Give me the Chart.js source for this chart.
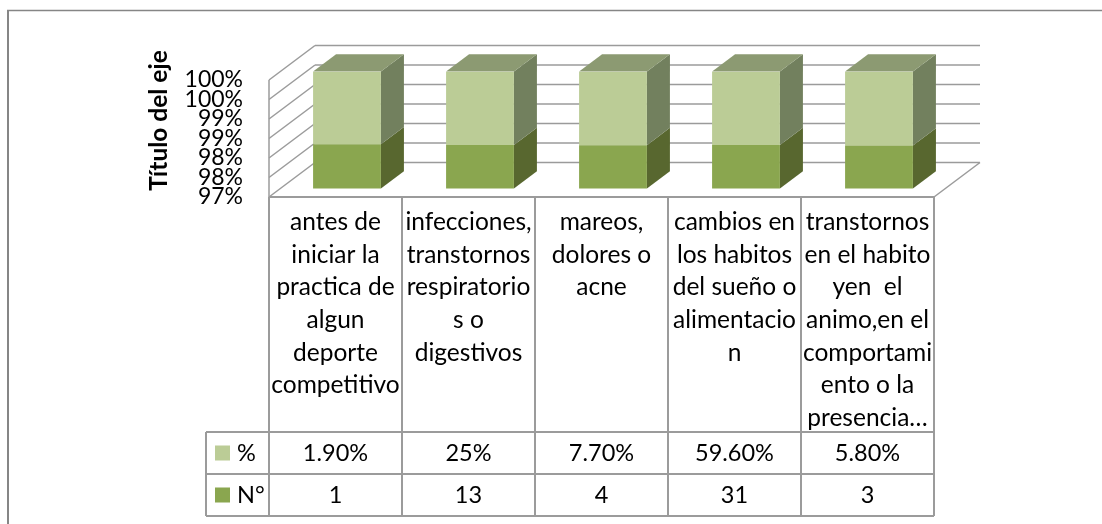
<!DOCTYPE html>
<html lang="es">
<head>
  <meta charset="UTF-8">
  <title>Grafico</title>
  <style>
    body { margin: 0; background: #fff; }
    canvas { display: block; }
  </style>
</head>
<body>
<canvas id="chart" width="1102" height="524"></canvas>
<script src="https://cdn.jsdelivr.net/npm/chart.js"></script>
<script>
  const categories = [
    ['antes de', 'iniciar la', 'practica de', 'algun', 'deporte', 'competitivo'],
    ['infecciones,', 'transtornos', 'respiratorio', 's o', 'digestivos'],
    ['mareos,', 'dolores o', 'acne'],
    ['cambios en', 'los habitos', 'del sueño o', 'alimentacio', 'n'],
    ['transtornos', 'en el habito', 'yen  el', 'animo,en el', 'comportami', 'ento o la', 'presencia…']
  ];
  const seriesNames = ['N°', '%'];
  const nValues = [1, 13, 4, 31, 3];
  const pctLabels = ['1.90%', '25%', '7.70%', '59.60%', '5.80%'];
  const yTickLabels = ['97%', '98%', '98%', '99%', '99%', '100%', '100%'];
  const axisTitle = 'Título del eje';

  // the original is a 100% stacked bar, so each column is the share of n + pct
  const pctValues = pctLabels.map(s => parseFloat(s) / 100);
  const nShare = nValues.map((n, i) => 100 * n / (n + pctValues[i]));
  const pctShare = pctValues.map((p, i) => 100 * p / (nValues[i] + p));

  const FONT = 'Lato, "Open Sans", sans-serif';
  const GRID = '#9b9b9b';
  const DEPTH_X = 46, DEPTH_Y = 34.5;      // full floor depth
  const BAR_X = 23, BAR_Y = 17.3;          // depth of a bar
  const SHIFT_X = 11.5, SHIFT_Y = 8.5;     // bars sit inside the floor

  const faces = [
    { side: '#58672f', top: '#58672f' },
    { side: '#72805e', top: '#8c9a72' }
  ];

  function poly(ctx, pts, color) {
    ctx.fillStyle = color;
    ctx.beginPath();
    pts.forEach((p, i) => i ? ctx.lineTo(p[0], p[1]) : ctx.moveTo(p[0], p[1]));
    ctx.closePath();
    ctx.fill();
  }

  function line(ctx, x1, y1, x2, y2) {
    ctx.beginPath();
    ctx.moveTo(x1, y1);
    ctx.lineTo(x2, y2);
    ctx.stroke();
  }

  const box3d = {
    id: 'box3d',
    beforeDraw(chart) {
      const ctx = chart.ctx;
      // frame around the chart
      ctx.save();
      ctx.strokeStyle = '#868686';
      ctx.lineWidth = 2;
      line(ctx, 8, 524, 8, 10);
      ctx.lineWidth = 1.5;
      line(ctx, 7, 10.5, 1102, 10.5);
      ctx.restore();
    },
    beforeDatasetsDraw(chart) {
      const ctx = chart.ctx;
      const a = chart.chartArea;
      const y = chart.scales.y;
      ctx.save();
      ctx.strokeStyle = GRID;
      ctx.lineWidth = 1.5;
      // walls
      y.ticks.forEach(t => {
        const py = y.getPixelForValue(t.value);
        line(ctx, a.left, py, a.left + DEPTH_X, py - DEPTH_Y);
        line(ctx, a.left + DEPTH_X, py - DEPTH_Y, a.right + DEPTH_X, py - DEPTH_Y);
      });
      line(ctx, a.left, a.top, a.left, a.bottom);
      line(ctx, a.right, a.bottom, a.right + DEPTH_X, a.bottom - DEPTH_Y);
      // side and top of every bar, the library draws the fronts
      chart.data.datasets.forEach((ds, d) => {
        chart.getDatasetMeta(d).data.forEach(bar => {
          const r = bar.x + bar.width / 2 + SHIFT_X;
          const l = bar.x - bar.width / 2 + SHIFT_X;
          const t = bar.y - SHIFT_Y;
          const b = Math.min(bar.base, a.bottom) - SHIFT_Y;
          poly(ctx, [[r, t], [r + BAR_X, t - BAR_Y], [r + BAR_X, b - BAR_Y], [r, b]], faces[d].side);
          if (d === chart.data.datasets.length - 1) {
            poly(ctx, [[l, t], [l + BAR_X, t - BAR_Y], [r + BAR_X, t - BAR_Y], [r, t]], faces[d].top);
          }
        });
      });
      ctx.restore();
      ctx.save();
      ctx.translate(SHIFT_X, -SHIFT_Y);
    },
    afterDatasetsDraw(chart) {
      chart.ctx.restore();
    },
    afterDraw(chart) {
      const ctx = chart.ctx;
      const a = chart.chartArea;
      const x = chart.scales.x;
      const step = (a.right - a.left) / categories.length;
      const rowTop = 432, rowMid = 474, rowEnd = 516, legendLeft = 206;
      ctx.save();
      ctx.strokeStyle = GRID;
      ctx.lineWidth = 2;
      line(ctx, a.left, a.bottom, a.right, a.bottom);
      for (let i = 0; i <= categories.length; i++) {
        line(ctx, a.left + i * step, a.bottom, a.left + i * step, rowEnd);
      }
      [rowTop, rowMid, rowEnd].forEach(py => line(ctx, legendLeft, py, a.right, py));
      line(ctx, legendLeft, rowTop, legendLeft, rowEnd);

      ctx.font = '23.5px ' + FONT;
      ctx.fillStyle = '#000';
      ctx.textBaseline = 'middle';
      ctx.textAlign = 'center';
      categories.forEach((c, i) => {
        const cx = x.getPixelForValue(i);
        ctx.fillText(pctLabels[i], cx, (rowTop + rowMid) / 2);
        ctx.fillText(String(nValues[i]), cx, (rowMid + rowEnd) / 2);
      });
      // legend keys inside the table
      ctx.textAlign = 'left';
      const rows = [[1, (rowTop + rowMid) / 2], [0, (rowMid + rowEnd) / 2]];
      rows.forEach(([d, cy]) => {
        ctx.fillStyle = chart.data.datasets[d].backgroundColor;
        ctx.fillRect(215, cy - 7.5, 15, 15);
        ctx.fillStyle = '#000';
        ctx.fillText(seriesNames[d], 237, cy);
      });
      // axis title sits higher than the axis middle
      ctx.translate(159, 120.5);
      ctx.rotate(-Math.PI / 2);
      ctx.textAlign = 'center';
      ctx.font = 'bold 24.5px ' + FONT;
      ctx.fillText(axisTitle, 0, 0);
      ctx.restore();
    }
  };

  new Chart(document.getElementById('chart'), {
    type: 'bar',
    plugins: [box3d],
    data: {
      labels: categories,
      datasets: [
        { label: seriesNames[0], data: nShare, backgroundColor: '#8aa64f' },
        { label: seriesNames[1], data: pctShare, backgroundColor: '#bbcc96' }
      ]
    },
    options: {
      responsive: false,
      animation: false,
      categoryPercentage: 1,
      barPercentage: 0.51,
      layout: { padding: { left: 145, right: 168, top: 80, bottom: 7 } },
      plugins: { legend: { display: false }, tooltip: { enabled: false } },
      scales: {
        x: {
          stacked: true,
          grid: { display: false },
          border: { display: false },
          afterFit(s) { s.height = 320; },
          ticks: {
            autoSkip: false,
            maxRotation: 0,
            padding: 1,
            color: '#000',
            font: { family: FONT, size: 24.5, lineHeight: 1.33 }
          }
        },
        y: {
          stacked: true,
          min: 97,
          max: 100,
          grid: { display: false },
          border: { display: false },
          afterFit(s) { s.width = 124; },
          ticks: {
            stepSize: 0.5,
            autoSkip: false,
            padding: 18,
            color: '#000',
            font: { family: FONT, size: 23 },
            callback: (v, i) => yTickLabels[i]
          }
        }
      }
    }
  });
</script>
</body>
</html>
